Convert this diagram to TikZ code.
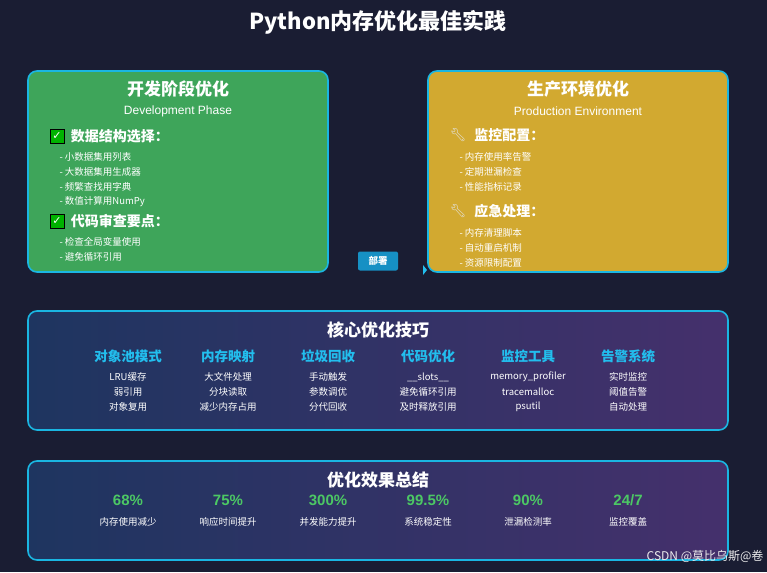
\documentclass[tikz,border=0pt]{standalone}
\usepackage{fontspec}
\setmainfont{Noto Sans CJK SC}
\newfontfamily\latinf{Liberation Sans}
\newfontfamily\symf{DejaVu Sans}
\newfontfamily\emojif{Noto Emoji}
\usetikzlibrary{positioning,arrows.meta}
\definecolor{bgdark}{HTML}{1A1D33}
\definecolor{devgreen}{HTML}{3EA55A}
\definecolor{prodgold}{HTML}{D2A930}
\definecolor{edgecyan}{HTML}{1AB6E2}
\definecolor{corecyan}{HTML}{22BEEE}
\definecolor{numgreen}{HTML}{4CC864}
\definecolor{panelblue}{HTML}{1E3560}
\definecolor{panelpurple}{HTML}{45306C}
\definecolor{btnblue}{HTML}{1690C4}
\tikzset{
  panel/.style={draw=edgecyan, line width=1.6pt, rounded corners=9pt},
  heading/.style={text=white, font=\bfseries\fontsize{17}{19}\selectfont},
  subhead/.style={text=white, font=\latinf\fontsize{12}{14}\selectfont},
  topic/.style={text=white, anchor=west, font=\bfseries\fontsize{14}{16}\selectfont},
  item/.style={text=white, anchor=west, font=\fontsize{9.5}{11}\selectfont},
  colhead/.style={text=corecyan, font=\bfseries\fontsize{13.5}{15}\selectfont},
  colitem/.style={text=white, font=\fontsize{9.5}{11}\selectfont},
  bignum/.style={text=numgreen, font=\latinf\bfseries\fontsize{15}{17}\selectfont},
  checkbox/.style={fill=green!70!black, draw=black, line width=0.8pt, minimum size=14pt, inner sep=0pt, text=white, font=\symf\fontsize{11}{11}\selectfont},
  wrench/.style={text=white!80!gray, font=\emojif\fontsize{13}{13}\selectfont},
}
\begin{document}
\begin{tikzpicture}[x=1pt,y=-1pt]
% background
\fill[bgdark] (0,0) rectangle (767,572);
\useasboundingbox (0,0) rectangle (767,572);
\node[text=white, font=\bfseries\fontsize{22}{24}\selectfont] (title) at (378,22) {Python内存优化最佳实践};

% development phase
\draw[panel, fill=devgreen] (28,71) rectangle (328,272);
\node[heading] (devt) at (178,89) {开发阶段优化};
\node[subhead] (devs) at (178,111) {Development Phase};
\node[checkbox] (c1) at (57,136) {✓};
\node[topic, right=3pt of c1] (d1) {数据结构选择：};
\foreach \t [count=\i] in {小数据集用列表,大数据集用生成器,频繁查找用字典,数值计算用NumPy}
  \node[item] (da\i) at (56,142+15*\i) {- \t};
\node[checkbox] (c2) at (57,221) {✓};
\node[topic, right=3pt of c2] (d2) {代码审查要点：};
\foreach \t [count=\i] in {检查全局变量使用,避免循环引用}
  \node[item] (db\i) at (56,227+15*\i) {- \t};

% production environment
\draw[panel, fill=prodgold] (428,71) rectangle (728,272);
\node[heading] (prodt) at (578,89) {生产环境优化};
\node[subhead] (prods) at (578,111) {Production Environment};
\node[wrench] (w1) at (458,135) {🔧};
\node[topic, right=1pt of w1] (p1) {监控配置：};
\foreach \t [count=\i] in {内存使用率告警,定期泄漏检查,性能指标记录}
  \node[item] (pa\i) at (456,142+15*\i) {- \t};
\node[wrench] (w2) at (458,211) {🔧};
\node[topic, right=1pt of w2] (p2) {应急处理：};
\foreach \t [count=\i] in {内存清理脚本,自动重启机制,资源限制配置}
  \node[item] (pb\i) at (456,218+15*\i) {- \t};

% deploy button
\node[fill=btnblue, rounded corners=2pt, text=white, font=\bfseries\fontsize{9.5}{10}\selectfont, minimum width=40pt, minimum height=19pt] (deploy) at (378,261) {部署};
\coordinate (tip) at (427,270);
\fill[corecyan] (tip) -- ++(-4,-5) -- ++(0,10) -- cycle;

% core techniques
\draw[panel, left color=panelblue, right color=panelpurple] (28,311) rectangle (728,430);
\node[heading] (coret) at (378,330) {核心优化技巧};
\foreach \h/\a/\b/\c [count=\i] in {对象池模式/LRU缓存/弱引用/对象复用,
  内存映射/大文件处理/分块读取/减少内存占用,
  垃圾回收/手动触发/参数调优/分代回收,
  代码优化/\_\_slots\_\_/避免循环引用/及时释放引用,
  监控工具/memory\_profiler/tracemalloc/psutil,
  告警系统/实时监控/阈值告警/自动处理}{
  \node[colhead] (k\i) at (28+100*\i,356) {\h};
  \node[colitem] (ka\i) at (28+100*\i,377) {\a};
  \node[colitem] (kb\i) at (28+100*\i,392) {\b};
  \node[colitem] (kc\i) at (28+100*\i,407) {\c};
}

% summary
\draw[panel, left color=panelblue, right color=panelpurple] (28,461) rectangle (728,560);
\node[heading] (sumt) at (378,480) {优化效果总结};
\foreach \n/\l [count=\i] in {68\%/内存使用减少,75\%/响应时间提升,300\%/并发能力提升,
  99.5\%/系统稳定性,90\%/泄漏检测率,{24/7}/监控覆盖}{
  \node[bignum] (s\i) at (28+100*\i,500) {\n};
  \node[colitem] (sl\i) at (28+100*\i,522) {\l};
}
\node[text=white!85!gray, font=\fontsize{12}{14}\selectfont, anchor=east] (mark) at (767,556) {CSDN @莫比乌斯@卷};
\end{tikzpicture}
\end{document}
